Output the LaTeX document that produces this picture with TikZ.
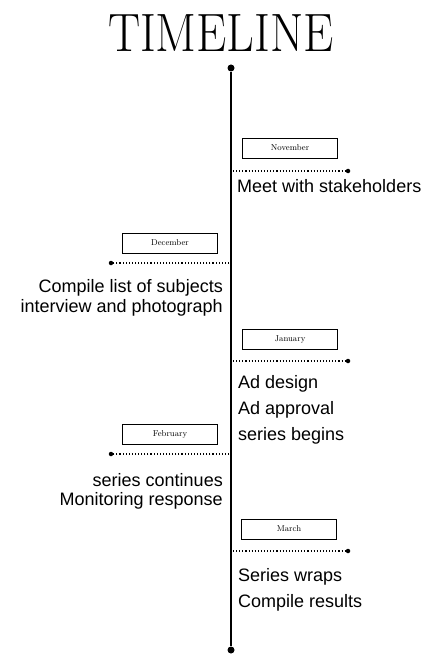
\documentclass[tikz,border=0pt]{standalone}
\usepackage{fontspec}
\newfontfamily\tasksans{Liberation Sans}
\usetikzlibrary{positioning,calc}

\begin{document}
\begin{tikzpicture}[
    x=1pt, y=-1pt,
    title/.style={font=\fontsize{54}{60}\selectfont, xscale=0.89},
    month/.style={rectangle, draw=black, thick, fill=white, minimum width=95pt, minimum height=20pt, inner sep=0pt, font=\fontsize{8.5}{9}\selectfont},
    task/.style={font=\tasksans\fontsize{18}{21}\selectfont, inner sep=0pt},
    dot/.style={circle, fill=black, inner sep=0pt, minimum size=4.5pt},
    bigdot/.style={circle, fill=black, inner sep=0pt, minimum size=7pt},
    link/.style={dotted, line width=1.1pt}
]
    \useasboundingbox (0,0) rectangle (427,655);

    % Title
    \node[title] (head) at (221,33) {TIMELINE};

    % Main line
    \node[bigdot] (top) at (231,68) {};
    \node[bigdot] (bottom) at (231,650) {};
    \draw[line width=2.6pt] (top) -- (bottom);

    % November
    \node[month] (nov) at (290,148) {November};
    \node[dot] (novdot) at (348,171) {};
    \coordinate (novl) at (233,171);
    \draw[link] (novl) -- (novdot);
    \node[task, anchor=west] (nov1) at (237,186) {Meet with stakeholders};

    % December
    \node[month] (dec) at (170,243) {December};
    \node[dot] (decdot) at (111,263) {};
    \coordinate (decl) at (229,263);
    \draw[link] (decl) -- (decdot);
    \node[task, anchor=east] (dec1) at (223,288) {Compile list of subjects};
    \node[task, anchor=east] (dec2) at (223,308) {interview and photograph};

    % January
    \node[month] (jan) at (290,339) {January};
    \node[dot] (jandot) at (348,361) {};
    \coordinate (janl) at (233,361);
    \draw[link] (janl) -- (jandot);
    \node[task, anchor=west] (jan1) at (238,384) {Ad design};
    \node[task, anchor=west] (jan2) at (238,410) {Ad approval};
    \node[task, anchor=west] (jan3) at (238,436) {series begins};

    % February
    \node[month] (feb) at (170,434) {February};
    \node[dot] (febdot) at (111,454) {};
    \coordinate (febl) at (229,454);
    \draw[link] (febl) -- (febdot);
    \node[task, anchor=east] (feb1) at (223,480) {series continues};
    \node[task, anchor=east] (feb2) at (223,501) {Monitoring response};

    % March
    \node[month] (mar) at (289,529) {March};
    \node[dot] (mardot) at (348,551) {};
    \coordinate (marl) at (233,551);
    \draw[link] (marl) -- (mardot);
    \node[task, anchor=west] (mar1) at (238,577) {Series wraps};
    \node[task, anchor=west] (mar2) at (238,603) {Compile results};
\end{tikzpicture}
\end{document}
